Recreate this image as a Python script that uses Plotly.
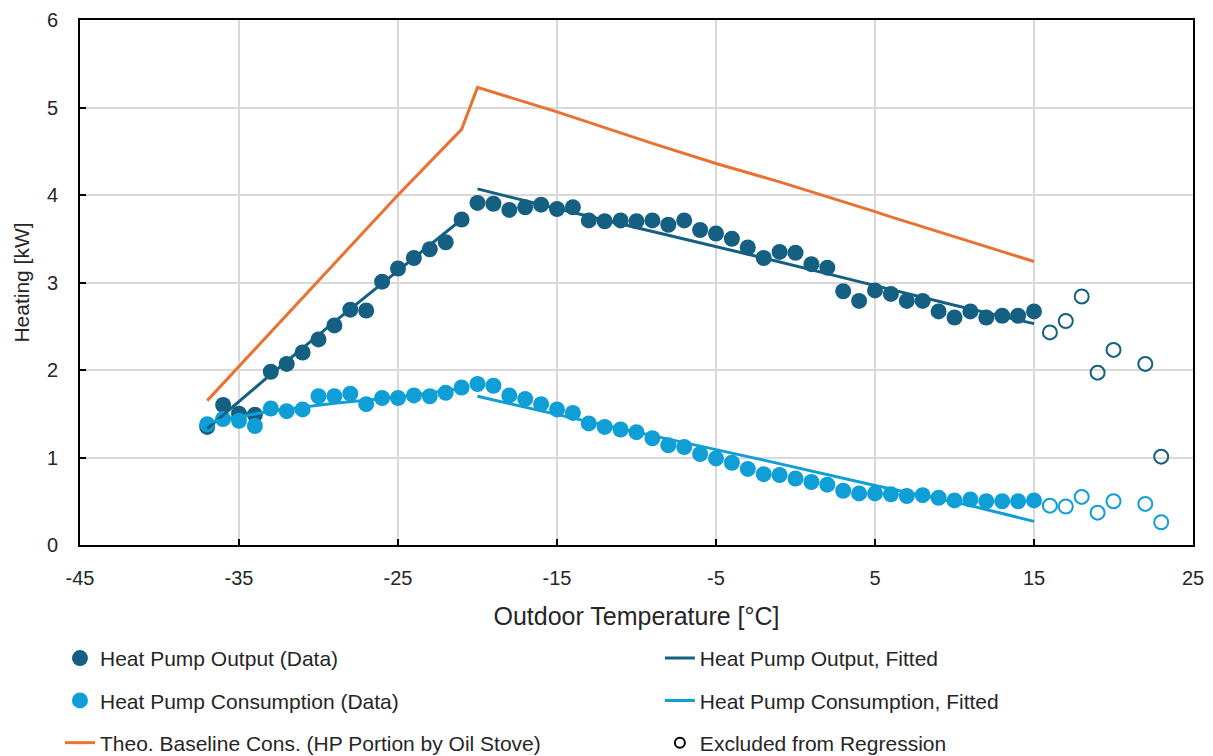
import plotly.graph_objects as go

# ---------------- data ----------------
temp_fit_range = [-37, -36, -35, -34, -33, -32, -31, -30, -29, -28, -27, -26, -25, -24, -23, -22, -21,
                  -20, -19, -18, -17, -16, -15, -14, -13, -12, -11, -10, -9, -8, -7, -6, -5, -4, -3,
                  -2, -1, 0, 1, 2, 3, 4, 5, 6, 7, 8, 9, 10, 11, 12, 13, 14, 15]

hp_output = [1.35, 1.60, 1.50, 1.49, 1.98, 2.07, 2.20, 2.35, 2.51, 2.69, 2.68, 3.01, 3.16, 3.28, 3.38, 3.46, 3.72,
             3.91, 3.90, 3.83, 3.86, 3.89, 3.84, 3.86, 3.71, 3.70, 3.71, 3.70, 3.71, 3.66, 3.71, 3.60, 3.56, 3.50, 3.40,
             3.28, 3.35, 3.34, 3.21, 3.17, 2.90, 2.79, 2.91, 2.87, 2.79, 2.79, 2.67, 2.60, 2.67, 2.60, 2.62, 2.62, 2.67]

hp_consumption = [1.38, 1.44, 1.42, 1.36, 1.56, 1.53, 1.55, 1.70, 1.70, 1.73, 1.61, 1.68, 1.68, 1.71, 1.70, 1.74, 1.80,
                  1.84, 1.82, 1.71, 1.67, 1.61, 1.55, 1.51, 1.39, 1.35, 1.32, 1.29, 1.22, 1.14, 1.12, 1.04, 0.99, 0.94, 0.87,
                  0.81, 0.80, 0.76, 0.72, 0.69, 0.62, 0.59, 0.59, 0.58, 0.56, 0.57, 0.54, 0.51, 0.52, 0.50, 0.50, 0.50, 0.51]

temp_excluded = [16, 17, 18, 19, 20, 22, 23]
excl_output = [2.43, 2.56, 2.84, 1.97, 2.23, 2.07, 1.01]
excl_consumption = [0.45, 0.44, 0.55, 0.37, 0.50, 0.47, 0.26]

# fitted curves (two regression segments, gap between them)
fit_out_temp = [-37, -33, -29, -25, -21, None, -20, -14, -8, -2, 4, 10, 15]
fit_out_val = [1.33, 1.95, 2.55, 3.14, 3.72, None, 4.07, 3.80, 3.54, 3.28, 3.01, 2.74, 2.53]

fit_cons_temp = [-37, -33, -29, -25, -21, None, -20, -14, -8, -2, 5, 11, 15]
fit_cons_val = [1.40, 1.53, 1.62, 1.69, 1.79, None, 1.70, 1.45, 1.21, 0.97, 0.68, 0.45, 0.27]

baseline_temp = [-37, -35, -30, -25, -21, -20, -15, -9, -5, -1, 5, 6, 12, 15]
baseline_val = [1.65, 2.04, 3.02, 4.00, 4.75, 5.23, 4.95, 4.59, 4.36, 4.15, 3.81, 3.75, 3.41, 3.24]

x_ticks = [-45, -35, -25, -15, -5, 5, 15, 25]
x_tick_labels = ["-45", "-35", "-25", "-15", "-5", "5", "15", "25"]
y_ticks = [0, 1, 2, 3, 4, 5, 6]
y_tick_labels = ["0", "1", "2", "3", "4", "5", "6"]

# ---------------- style ----------------
DARK = "#156082"
LIGHT = "#0F9ED5"
ORANGE = "#E97132"
FONT = "Liberation Sans, Arial, sans-serif"
TXT = "#262626"

fig = go.Figure()

fig.add_trace(go.Scatter(x=temp_fit_range, y=hp_output, mode="markers", name="Heat Pump Output (Data)",
                         marker=dict(color=DARK, size=16), legend="legend", legendgroup="a", legendrank=1))
fig.add_trace(go.Scatter(x=temp_fit_range, y=hp_consumption, mode="markers", name="Heat Pump Consumption (Data)",
                         marker=dict(color=LIGHT, size=16), legend="legend", legendgroup="b", legendrank=2))
fig.add_trace(go.Scatter(x=baseline_temp, y=baseline_val, mode="lines",
                         name="Theo. Baseline Cons. (HP Portion by Oil Stove)",
                         line=dict(color=ORANGE, width=3), legend="legend", legendgroup="c", legendrank=3))
fig.add_trace(go.Scatter(x=fit_out_temp, y=fit_out_val, mode="lines", name="Heat Pump Output, Fitted",
                         line=dict(color=DARK, width=3), connectgaps=False,
                         legend="legend2", legendgroup="d", legendrank=1))
fig.add_trace(go.Scatter(x=fit_cons_temp, y=fit_cons_val, mode="lines", name="Heat Pump Consumption, Fitted",
                         line=dict(color=LIGHT, width=3), connectgaps=False,
                         legend="legend2", legendgroup="e", legendrank=2))
fig.add_trace(go.Scatter(x=temp_excluded, y=excl_output, mode="markers", showlegend=False,
                         marker=dict(symbol="circle-open", color=DARK, size=14, line=dict(width=2))))
fig.add_trace(go.Scatter(x=temp_excluded, y=excl_consumption, mode="markers", showlegend=False,
                         marker=dict(symbol="circle-open", color=LIGHT, size=14, line=dict(width=2))))
fig.add_trace(go.Scatter(x=[None], y=[None], mode="markers", name="Excluded from Regression",
                         marker=dict(symbol="circle-open", color="black", size=10, line=dict(width=2)),
                         legend="legend2", legendgroup="f", legendrank=3))

legend_common = dict(orientation="v", yanchor="top", xanchor="left", bgcolor="rgba(0,0,0,0)",
                     font=dict(family=FONT, size=21, color=TXT), tracegroupgap=12, itemwidth=30)

fig.update_layout(
    width=1205, height=748,
    margin=dict(l=72, r=20, t=12, b=211, autoexpand=False),
    paper_bgcolor="white", plot_bgcolor="white",
    font=dict(family=FONT, color=TXT),
    legend=dict(x=-0.018, y=-0.177, **legend_common),
    legend2=dict(x=0.521, y=-0.177, **legend_common),
    xaxis=dict(range=[-45, 25], tickmode="array", tickvals=x_ticks, ticktext=x_tick_labels,
               showgrid=True, gridcolor="#d9d9d9", gridwidth=2,
               showline=True, linecolor="black", linewidth=2, mirror=True,
               ticks="inside", ticklen=6, tickwidth=2, tickcolor="black", ticklabelstandoff=14,
               tickfont=dict(family=FONT, size=20, color=TXT), zeroline=False,
               title=dict(text="Outdoor Temperature [°C]", font=dict(family=FONT, size=25, color=TXT), standoff=19)),
    yaxis=dict(range=[0, 6], tickmode="array", tickvals=y_ticks, ticktext=y_tick_labels,
               showgrid=True, gridcolor="#d9d9d9", gridwidth=2,
               showline=True, linecolor="black", linewidth=2, mirror=True,
               ticks="inside", ticklen=6, tickwidth=2, tickcolor="black", ticklabelstandoff=16,
               tickfont=dict(family=FONT, size=20, color=TXT), zeroline=False,
               title=dict(text="Heating [kW]", font=dict(family=FONT, size=21, color=TXT), standoff=12)),
)

fig.write_html("out.html")
